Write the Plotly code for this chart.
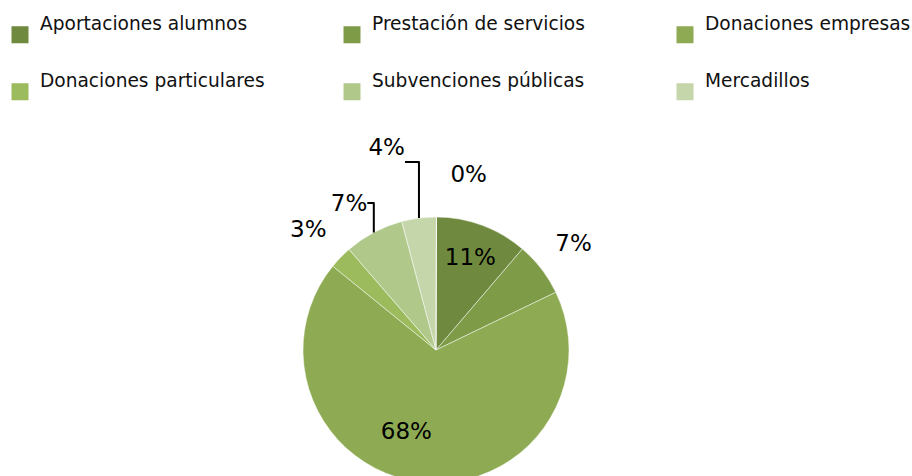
import plotly.graph_objects as go

# ---- data ----
categories = ["Aportaciones alumnos", "Prestación de servicios", "Donaciones empresas",
              "Donaciones particulares", "Subvenciones públicas", "Mercadillos"]
values = [11.2, 6.6, 68.0, 2.8, 7.2, 4.2]
extra_category = "Otros"   # 0% slice (its legend entry is not visible in the picture)
extra_value = 0.0
colors = ["#6f8a3e", "#7e9b48", "#8eab54", "#9cbb5c", "#b0c98b", "#c5d6aa"]
text_positions = ["inside", "outside", "inside", "outside", "outside", "outside", "outside"]

W, H = 912, 484
FONT = "DejaVu Sans"

PCT = "%{percent:.0%}"
NB = "\u00a0"
# blank lines / spaces nudge each label's visible text to where the reference shows it
templates = [PCT, PCT + "<br> ", " <br>" + PCT + NB * 6, PCT + "<br> ", PCT, PCT + "<br> ", PCT + "<br> "]

fig = go.Figure()

# main pie (its own legend hidden; legend entries come from helper traces below)
fig.add_trace(go.Pie(
    labels=categories + [extra_category],
    values=values + [extra_value],
    sort=False,
    direction="clockwise",
    rotation=0.2,
    marker=dict(colors=colors + ["#d9e4c8"], line=dict(color="rgba(255,255,255,0.6)", width=0.8)),
    texttemplate=templates,
    textposition=text_positions,
    insidetextorientation="horizontal",
    textfont=dict(family=FONT, size=23, color="#000000"),
    showlegend=False,
    hoverinfo="label+percent",
    domain=dict(x=[303 / W, 569 / W], y=[(H - 483) / H, (H - 217) / H]),
))

# one legend per entry: 3 columns x 2 rows
col_x = [0, 332, 665]
row_y = [4, 61]
legend_layouts = {}
for i, (cat, col, val) in enumerate(zip(categories, colors, values)):
    name = "legend" if i == 0 else f"legend{i + 1}"
    fig.add_trace(go.Pie(
        labels=[cat + "<br> "],
        values=[val],
        sort=False,
        marker=dict(colors=[col], line=dict(color=[col], width=5)),
        textinfo="none",
        hoverinfo="skip",
        showlegend=True,
        legend=name,
        domain=dict(x=[99 / W, 101 / W], y=[1 - 24 / H, 1 - 22 / H]),
    ))
    legend_layouts[name] = dict(
        x=col_x[i % 3] / W, xanchor="left",
        y=1 - row_y[i // 3] / H, yanchor="top",
        orientation="v",
        font=dict(family=FONT, size=18.6, color="#111111"),
        valign="middle",
        bgcolor="#ffffff",
        itemclick=False,
        itemdoubleclick=False,
    )

fig.update_layout(
    width=W, height=H,
    margin=dict(l=0, r=0, t=0, b=0, autoexpand=False),
    paper_bgcolor="#ffffff",
    plot_bgcolor="#ffffff",
    font=dict(family=FONT),
    **legend_layouts,
)

fig.write_html(
    "out.html",
    post_script="document.body.style.margin='0';document.body.style.overflow='hidden';"
                "document.documentElement.style.overflow='hidden';",
)
